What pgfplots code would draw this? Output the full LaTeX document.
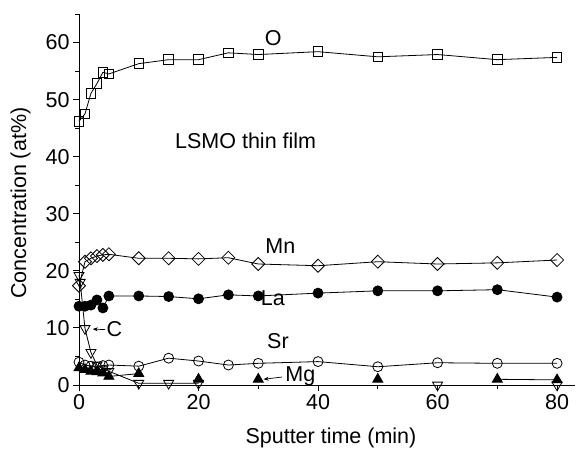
\documentclass[border=0pt]{standalone}
\usepackage{fontspec}
\setmainfont{Liberation Sans}
\usepackage{pgfplots}
\pgfplotsset{compat=1.18}
\usetikzlibrary{arrows.meta}

\begin{document}
\begin{tikzpicture}[font=\fontsize{21.5}{25}\selectfont]
\begin{axis}[name=ax,
  scale only axis, width=496pt, height=371pt,
  xmin=0, xmax=83, ymin=0, ymax=65,
  axis lines=left, axis line style={-, line width=0.9pt},
  xtick={0,20,...,80}, minor xtick={10,30,50,70},
  ytick={0,10,...,60}, minor ytick={5,15,...,65},
  tick align=outside, major tick length=6pt, minor tick length=3.5pt,
  every tick/.style={black, line width=0.9pt},
  /pgf/number format/assume math mode=true,
  tick label style={font=\fontsize{21.5}{25}\selectfont},
  xlabel={Sputter time (min)}, ylabel={Concentration (at\%)},
  xlabel style={at={(axis description cs:0.508,0)}, anchor=center, yshift=-53pt},
  ylabel style={at={(axis description cs:-0.118,0.49)}, anchor=center},
  clip=false, unbounded coords=jump,
  every axis plot/.append style={black, line width=0.8pt, mark options={solid, fill=white}}]

% O
\addplot[mark=square, mark size=4.8pt] coordinates {
(0,46.2) (1,47.5) (2,51.1) (3,52.8) (4,54.8) (5,54.5) (10,56.3) (15,57.0)
(20,57.0) (25,58.2) (30,57.9) (40,58.4) (50,57.5) (60,57.9) (70,57.0) (80,57.4)};
% Mn
\addplot[mark=square, mark size=4.6pt, mark options={rotate=45}] coordinates {
(0,17.4) (1,21.6) (2,22.2) (3,22.6) (4,22.8) (5,22.9) (10,22.2) (15,22.2)
(20,22.1) (25,22.3) (30,21.2) (40,20.9) (50,21.6) (60,21.2) (70,21.4) (80,21.9)};
% La
\addplot[mark=*, mark size=5pt, mark options={fill=black}] coordinates {
(0,13.8) (1,13.8) (2,14.0) (3,14.9) (4,13.5) (5,15.6) (10,15.6) (15,15.5)
(20,15.1) (25,15.8) (30,15.6) (40,16.1) (50,16.5) (60,16.5) (70,16.7) (80,15.4)};
% Sr
\addplot[mark=o, mark size=5pt] coordinates {
(0,4.0) (1,3.5) (2,3.3) (3,3.1) (4,3.4) (5,3.5) (10,3.3) (15,4.7)
(20,4.2) (25,3.5) (30,3.8) (40,4.1) (50,3.2) (60,3.9) (70,3.8) (80,3.8)};
% C
\addplot[mark=triangle, mark size=5.8pt, mark options={rotate=180}] coordinates {
(0,19.2) (0.2,18.0) (1,9.9) (2,5.7) (3,3.5) (4,2.8) (5,2.4) (10,0.3) (15,0.3)
(20,0.3) (25,nan) (60,0.0) (70,nan) (80,0.0)};
% Mg
\addplot[mark=triangle*, mark size=5.8pt, mark options={fill=black}] coordinates {
(0,3.0) (1,2.7) (2,2.4) (3,2.3) (4,2.1) (5,1.5) (10,2.0) (15,nan)
(20,1.0) (25,nan) (30,1.0) (40,nan) (50,1.0) (60,nan) (70,1.0) (80,0.9)};

\node[anchor=base west] at (axis cs:30.5,59.4) {O};
\node[anchor=base west] at (axis cs:15.5,41.5) {LSMO thin film};
\node[anchor=base west] at (axis cs:30.6,23.1) {Mn};
\node[anchor=base west, inner sep=0pt] at (axis cs:30.4,13.9) {La};
\node[anchor=base west] at (axis cs:30.9,6.4) {Sr};
\node[anchor=base west, inner sep=0pt] at (axis cs:4.6,8.5) {C};
\draw[-{Stealth[length=5pt,width=4pt]}, line width=0.7pt] (axis cs:4.4,9.7) -- (axis cs:2.3,9.8);
\node[anchor=base west, inner sep=0pt] at (axis cs:34.5,0.6) {Mg};
\draw[-{Stealth[length=5pt,width=4pt]}, line width=0.7pt] (axis cs:34.0,1.4) -- (axis cs:30.9,1.0);
\end{axis}
\path (ax.south west) ++(-79pt,-65pt) rectangle ++(585pt,450pt);
\end{tikzpicture}
\end{document}
